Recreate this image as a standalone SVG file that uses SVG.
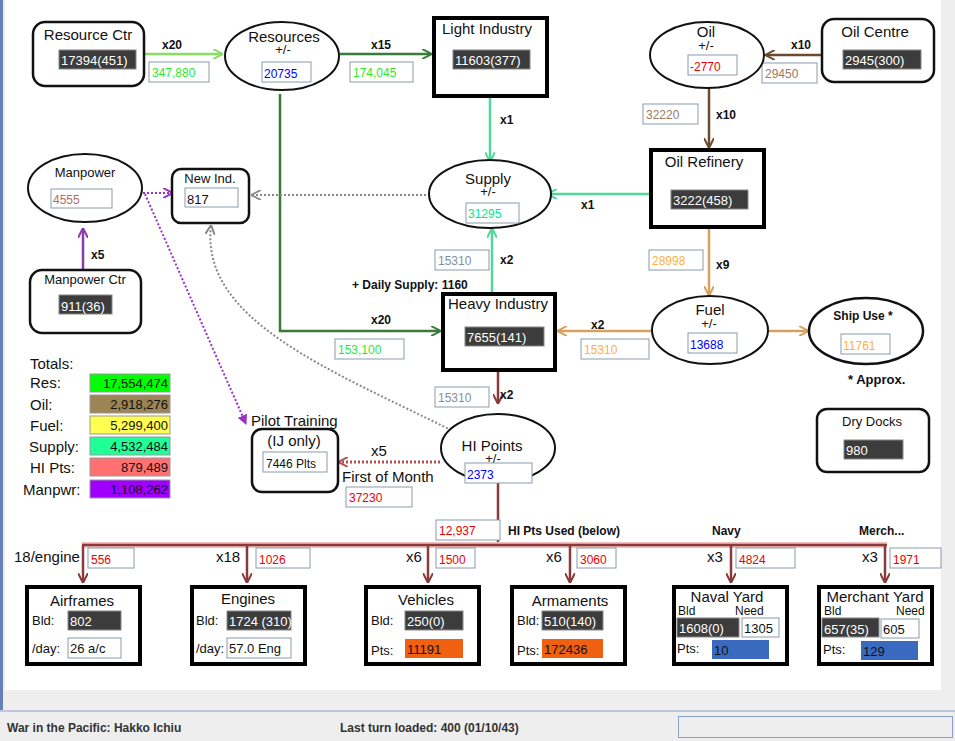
<svg xmlns="http://www.w3.org/2000/svg" width="955" height="741" viewBox="0 0 955 741">
<style>
text{font-family:"Liberation Sans",Arial,sans-serif;fill:#111}
.t{font-size:15px;text-anchor:middle}
.ts{font-size:13px;text-anchor:middle}
.b{font-size:12px;font-weight:bold}
.v{font-size:12px}
.dk{fill:#3c3c3c;stroke:#888;stroke-width:1}
.dt{fill:#fff;font-size:13px}
.ib{fill:#fff;stroke:#8a9aae;stroke-width:1}
.rb{fill:#fff;stroke:#111;stroke-width:2.5}
.tb{fill:#fff;stroke:#000;stroke-width:4}
.el{fill:#fff;stroke:#111;stroke-width:2}
</style>
<defs>
<marker id="ag" viewBox="0 0 10 10" refX="9" refY="5" markerWidth="10" markerHeight="10" orient="auto" markerUnits="userSpaceOnUse"><path d="M0,0L10,5L0,10" fill="none" stroke="context-stroke" stroke-width="2"/></marker>
<marker id="af" viewBox="0 0 10 10" refX="9" refY="5" markerWidth="10" markerHeight="10" orient="auto" markerUnits="userSpaceOnUse"><path d="M0,0L10,5L0,10z" fill="#9b30c8"/></marker>
</defs>
<rect width="955" height="741" fill="#eeeeee"/>
<rect x="5" y="0" width="936" height="690" fill="#fff"/>
<rect x="0" y="0" width="3" height="710" fill="#6680b8"/>
<line x1="0" y1="711" x2="955" y2="711" stroke="#8aa0c8"/>

<g id="connectors" fill="none">
<line x1="145" y1="54" x2="222" y2="54" stroke="#86e060" stroke-width="2.5" marker-end="url(#ag)"/>
<line x1="340" y1="54" x2="431" y2="54" stroke="#3a7a3a" stroke-width="2.5" marker-end="url(#ag)"/>
<polyline points="280,94 280,331 440,331" stroke="#3a7a3a" stroke-width="2.5" marker-end="url(#ag)"/>
<line x1="490" y1="98" x2="490" y2="161" stroke="#4fd89a" stroke-width="2.5" marker-end="url(#ag)"/>
<line x1="650" y1="194" x2="548" y2="194" stroke="#4fd89a" stroke-width="2.5" marker-end="url(#ag)"/>
<line x1="492" y1="292" x2="492" y2="229" stroke="#4fd89a" stroke-width="2.5" marker-end="url(#ag)"/>
<line x1="821" y1="55" x2="766" y2="55" stroke="#6b4a2e" stroke-width="2.5" marker-end="url(#ag)"/>
<line x1="709" y1="88" x2="709" y2="147" stroke="#6b4a2e" stroke-width="2.5" marker-end="url(#ag)"/>
<line x1="709" y1="229" x2="709" y2="295" stroke="#d8a060" stroke-width="2.5" marker-end="url(#ag)"/>
<line x1="651" y1="331" x2="558" y2="331" stroke="#d8a060" stroke-width="2.5" marker-end="url(#ag)"/>
<line x1="768" y1="331" x2="808" y2="331" stroke="#d8a060" stroke-width="2.5" marker-end="url(#ag)"/>
<line x1="498" y1="372" x2="498" y2="403" stroke="#8b3a3a" stroke-width="2.5" marker-end="url(#ag)"/>
<line x1="440" y1="462" x2="339" y2="462" stroke="#b05050" stroke-width="3" stroke-dasharray="2,2" marker-end="url(#ag)"/>
<line x1="83" y1="270" x2="83" y2="229" stroke="#8b3aa8" stroke-width="2.5" marker-end="url(#ag)"/>
<line x1="143" y1="193" x2="172" y2="193" stroke="#9b30c8" stroke-width="2" stroke-dasharray="2,2" marker-end="url(#ag)"/>
<line x1="145" y1="194" x2="246" y2="424" stroke="#9b30c8" stroke-width="2" stroke-dasharray="2,2" marker-end="url(#af)"/>
<line x1="430" y1="195" x2="252" y2="195" stroke="#888" stroke-width="2" stroke-dasharray="2,2" marker-end="url(#ag)"/>
<path d="M455,432 C330,370 200,320 211,226" stroke="#888" stroke-width="2" stroke-dasharray="2,2" marker-end="url(#ag)"/>
<line x1="498" y1="483" x2="498" y2="545" stroke="#8b3a3a" stroke-width="2.5"/>
<line x1="82" y1="545" x2="887" y2="545" stroke="#f2c0c0" stroke-width="6"/>
<line x1="82" y1="545" x2="887" y2="545" stroke="#8b3a3a" stroke-width="2.5"/>
<g stroke="#8b3a3a" stroke-width="2.5" marker-end="url(#ag)">
<line x1="83" y1="545" x2="83" y2="582"/>
<line x1="247" y1="545" x2="247" y2="582"/>
<line x1="428" y1="545" x2="428" y2="582"/>
<line x1="570" y1="545" x2="570" y2="582"/>
<line x1="731" y1="545" x2="731" y2="582"/>
<line x1="885" y1="545" x2="885" y2="582"/>
</g>
</g>

<g id="connector-labels">
<text x="162" y="49" class="b">x20</text>
<rect x="149" y="62" width="60" height="20" class="ib"/><text x="152" y="77" class="v" style="fill:#2ee82e">347,880</text>
<text x="371" y="49" class="b">x15</text>
<rect x="350" y="62" width="63" height="20" class="ib"/><text x="353" y="77" class="v" style="fill:#2ee82e">174,045</text>
<text x="371" y="324" class="b">x20</text>
<rect x="335" y="339" width="69" height="20" class="ib"/><text x="338" y="354" class="v" style="fill:#2ee82e">153,100</text>
<text x="500" y="124" class="b">x1</text>
<text x="581" y="209" class="b">x1</text>
<text x="500" y="264" class="b">x2</text>
<rect x="435" y="250" width="54" height="20" class="ib"/><text x="438" y="265" class="v" style="fill:#8090a0">15310</text>
<text x="352" y="289" class="b">+ Daily Supply: 1160</text>
<text x="791" y="49" class="b">x10</text>
<rect x="762" y="63" width="55" height="20" class="ib"/><text x="765" y="78" class="v" style="fill:#9a7a60">29450</text>
<text x="716" y="119" class="b">x10</text>
<rect x="643" y="104" width="55" height="20" class="ib"/><text x="646" y="119" class="v" style="fill:#9a7a60">32220</text>
<text x="716" y="269" class="b">x9</text>
<rect x="649" y="250" width="54" height="20" class="ib"/><text x="652" y="265" class="v" style="fill:#ffb040">28998</text>
<text x="591" y="329" class="b">x2</text>
<rect x="581" y="339" width="68" height="20" class="ib"/><text x="584" y="354" class="v" style="fill:#ffb040">15310</text>
<text x="500" y="399" class="b">x2</text>
<rect x="435" y="387" width="54" height="20" class="ib"/><text x="438" y="402" class="v" style="fill:#8090a0">15310</text>
<text x="91" y="259" class="b">x5</text>
<text x="371" y="456" style="font-size:15px">x5</text>
<text x="342" y="482" style="font-size:15px">First of Month</text>
<rect x="346" y="487" width="66" height="20" class="ib"/><text x="349" y="502" class="v" style="fill:#e00">37230</text>
<rect x="436" y="520" width="64" height="20" class="ib"/><text x="439" y="535" class="v" style="fill:#e00">12,937</text>
<text x="508" y="535" class="b">HI Pts Used (below)</text>
<text x="712" y="535" class="b">Navy</text>
<text x="859" y="535" class="b">Merch...</text>
<text x="14" y="562" style="font-size:15px">18/engine</text>
<rect x="88" y="548" width="46" height="20" class="ib"/><text x="91" y="564" class="v" style="fill:#e00">556</text>
<text x="216" y="562" style="font-size:15px">x18</text>
<rect x="256" y="548" width="54" height="20" class="ib"/><text x="259" y="564" class="v" style="fill:#e00">1026</text>
<text x="406" y="562" style="font-size:15px">x6</text>
<rect x="436" y="548" width="39" height="20" class="ib"/><text x="439" y="564" class="v" style="fill:#e00">1500</text>
<text x="546" y="562" style="font-size:15px">x6</text>
<rect x="577" y="548" width="39" height="20" class="ib"/><text x="580" y="564" class="v" style="fill:#e00">3060</text>
<text x="707" y="562" style="font-size:15px">x3</text>
<rect x="736" y="548" width="59" height="20" class="ib"/><text x="739" y="564" class="v" style="fill:#e00">4824</text>
<text x="862" y="562" style="font-size:15px">x3</text>
<rect x="890" y="548" width="51" height="20" class="ib"/><text x="893" y="564" class="v" style="fill:#e00">1971</text>
</g>

<g id="resource-ctr"><rect x="33" y="22" width="111" height="64" rx="12" class="rb"/><text x="88" y="40" class="t">Resource Ctr</text><rect x="59" y="50" width="77" height="19" class="dk"/><text x="61" y="65" class="dt">17394(451)</text></g>
<g id="resources"><ellipse cx="282" cy="56" rx="57" ry="34" class="el"/><text x="284" y="42" class="t">Resources</text><text x="283" y="54" class="ts">+/-</text><rect x="262" y="62" width="49" height="20" class="ib"/><text x="264" y="78" class="v" style="fill:#00f">20735</text></g>
<g id="light-industry"><rect x="434" y="18" width="113" height="78" class="tb"/><text x="487" y="34" class="t">Light Industry</text><rect x="453" y="50" width="77" height="19" class="dk"/><text x="455" y="65" class="dt">11603(377)</text></g>
<g id="supply"><ellipse cx="490" cy="194" rx="61" ry="34" class="el"/><text x="488" y="184" class="t">Supply</text><text x="488" y="196" class="ts">+/-</text><rect x="466" y="203" width="53" height="20" class="ib"/><text x="468" y="218" class="v" style="fill:#00e890">31295</text></g>
<g id="oil"><ellipse cx="707" cy="55" rx="57" ry="33" class="el"/><text x="706" y="37" class="t">Oil</text><text x="706" y="50" class="ts">+/-</text><rect x="688" y="55" width="49" height="20" class="ib"/><text x="690" y="71" class="v" style="fill:#e00">-2770</text></g>
<g id="oil-centre"><rect x="822" y="19" width="112" height="63" rx="12" class="rb"/><text x="875" y="37" class="t">Oil Centre</text><rect x="843" y="50" width="78" height="19" class="dk"/><text x="845" y="65" class="dt">2945(300)</text></g>
<g id="oil-refinery"><rect x="651" y="150" width="113" height="77" class="tb"/><text x="704" y="167" class="t">Oil Refinery</text><rect x="671" y="190" width="77" height="19" class="dk"/><text x="673" y="205" class="dt">3222(458)</text></g>
<g id="fuel"><ellipse cx="710" cy="330" rx="58" ry="34" class="el"/><text x="710" y="315" class="t">Fuel</text><text x="709" y="328" class="ts">+/-</text><rect x="688" y="333" width="49" height="20" class="ib"/><text x="690" y="349" class="v" style="fill:#00f">13688</text></g>
<g id="ship-use"><ellipse cx="866" cy="331" rx="57" ry="33" class="el" style="stroke-width:2.5"/><text x="863" y="320" class="ts" style="font-weight:bold;font-size:12px">Ship Use *</text><rect x="841" y="334" width="49" height="20" class="ib"/><text x="843" y="350" class="v" style="fill:#ffb040">11761</text><text x="848" y="384" class="b" style="font-size:13px">* Approx.</text></g>
<g id="dry-docks"><rect x="817" y="409" width="112" height="63" rx="10" class="rb"/><text x="872" y="426" class="ts">Dry Docks</text><rect x="844" y="440" width="59" height="19" class="dk"/><text x="846" y="455" class="dt">980</text></g>
<g id="heavy-industry"><rect x="443" y="294" width="112" height="76" class="tb"/><text x="498" y="309" class="t">Heavy Industry</text><rect x="465" y="327" width="79" height="19" class="dk"/><text x="467" y="342" class="dt">7655(141)</text></g>
<g id="hi-points"><ellipse cx="498" cy="448" rx="57" ry="34" class="el"/><text x="492" y="451" class="t">HI Points</text><text x="493" y="463" class="ts">+/-</text><rect x="465" y="463" width="67" height="20" class="ib"/><text x="467" y="479" class="v" style="fill:#00f">2373</text></g>
<g id="pilot-training"><text x="251" y="426" style="font-size:15px">Pilot Training</text><rect x="252" y="429" width="86" height="63" rx="10" class="rb"/><text x="294" y="446" class="t">(IJ only)</text><rect x="263" y="452" width="64" height="20" class="ib"/><text x="266" y="468" class="v">7446 Plts</text></g>
<g id="manpower"><ellipse cx="85" cy="188" rx="57" ry="34" class="el"/><text x="85" y="177" class="ts">Manpower</text><rect x="51" y="189" width="61" height="19" class="ib"/><text x="53" y="204" class="v" style="fill:#b07060">4555</text></g>
<g id="manpower-ctr"><rect x="30" y="270" width="111" height="63" rx="12" class="rb"/><text x="85" y="284" class="ts">Manpower Ctr</text><rect x="59" y="295" width="53" height="19" class="dk"/><text x="61" y="311" class="dt">911(36)</text></g>
<g id="new-ind"><rect x="172" y="169" width="77" height="54" rx="9" class="rb"/><text x="210" y="183" class="ts">New Ind.</text><rect x="185" y="188" width="53" height="19" class="ib"/><text x="187" y="204" class="v" style="font-size:13px">817</text></g>

<g id="totals" style="font-size:15px">
<text x="30" y="369">Totals:</text>
<text x="30" y="388">Res:</text><rect x="90" y="374" width="80" height="18" fill="#00ff00" stroke="#999"/><text x="168" y="388" text-anchor="end" style="font-size:13px">17,554,474</text>
<text x="30" y="410">Oil:</text><rect x="90" y="395" width="80" height="18" fill="#9c8454" stroke="#999"/><text x="168" y="409" text-anchor="end" style="font-size:13px">2,918,276</text>
<text x="30" y="431">Fuel:</text><rect x="90" y="416" width="80" height="18" fill="#ffff50" stroke="#999"/><text x="168" y="430" text-anchor="end" style="font-size:13px">5,299,400</text>
<text x="29" y="452">Supply:</text><rect x="90" y="437" width="80" height="18" fill="#20ff98" stroke="#999"/><text x="168" y="451" text-anchor="end" style="font-size:13px">4,532,484</text>
<text x="30" y="473">HI Pts:</text><rect x="90" y="458" width="80" height="18" fill="#ff7070" stroke="#999"/><text x="168" y="472" text-anchor="end" style="font-size:13px">879,489</text>
<text x="23" y="495">Manpwr:</text><rect x="90" y="480" width="80" height="18" fill="#a000ff" stroke="#999"/><text x="168" y="494" text-anchor="end" style="font-size:13px">1,108,262</text>
</g>

<g id="airframes"><rect x="27" y="587" width="113" height="77" class="tb"/><text x="82" y="606" class="t">Airframes</text><text x="32" y="625" style="font-size:13px">Bld:</text><rect x="68" y="611" width="53" height="19" class="dk"/><text x="70" y="626" class="dt">802</text><text x="32" y="653" style="font-size:13px">/day:</text><rect x="68" y="638" width="53" height="20" class="ib"/><text x="70" y="653" style="font-size:13px">26 a/c</text></g>
<g id="engines"><rect x="192" y="587" width="113" height="77" class="tb"/><text x="248" y="604" class="t">Engines</text><text x="196" y="625" style="font-size:13px">Bld:</text><rect x="227" y="611" width="64" height="19" class="dk"/><text x="229" y="626" class="dt">1724 (310)</text><text x="196" y="653" style="font-size:13px">/day:</text><rect x="227" y="638" width="64" height="20" class="ib"/><text x="229" y="653" style="font-size:13px">57.0 Eng</text></g>
<g id="vehicles"><rect x="366" y="587" width="113" height="77" class="tb"/><text x="426" y="605" class="t">Vehicles</text><text x="371" y="625" style="font-size:13px">Bld:</text><rect x="405" y="611" width="58" height="19" class="dk"/><text x="407" y="626" class="dt">250(0)</text><text x="371" y="655" style="font-size:13px">Pts:</text><rect x="405" y="639" width="58" height="19" fill="#f06010"/><text x="407" y="654" style="font-size:13px">11191</text></g>
<g id="armaments"><rect x="512" y="587" width="113" height="77" class="tb"/><text x="570" y="606" class="t">Armaments</text><text x="517" y="625" style="font-size:13px">Bld:</text><rect x="542" y="611" width="61" height="19" class="dk"/><text x="544" y="626" class="dt">510(140)</text><text x="517" y="655" style="font-size:13px">Pts:</text><rect x="542" y="639" width="61" height="19" fill="#f06010"/><text x="544" y="654" style="font-size:13px">172436</text></g>
<g id="naval-yard"><rect x="674" y="587" width="113" height="77" class="tb"/><text x="727" y="602" class="t">Naval Yard</text><text x="678" y="615" style="font-size:12px">Bld</text><text x="735" y="615" style="font-size:12px">Need</text><rect x="677" y="618" width="62" height="19" class="dk"/><text x="679" y="633" class="dt">1608(0)</text><rect x="742" y="618" width="37" height="19" class="ib"/><text x="744" y="633" style="font-size:13px">1305</text><text x="677" y="653" style="font-size:13px">Pts:</text><rect x="712" y="640" width="57" height="19" fill="#3a6ac0"/><text x="714" y="655" style="font-size:13px">10</text></g>
<g id="merchant-yard"><rect x="819" y="587" width="113" height="77" class="tb"/><text x="875" y="602" class="t">Merchant Yard</text><text x="824" y="615" style="font-size:12px">Bld</text><text x="896" y="615" style="font-size:12px">Need</text><rect x="822" y="618" width="57" height="19" class="dk"/><text x="824" y="634" class="dt">657(35)</text><rect x="881" y="619" width="38" height="19" class="ib"/><text x="883" y="634" style="font-size:13px">605</text><text x="823" y="654" style="font-size:13px">Pts:</text><rect x="861" y="641" width="57" height="19" fill="#3a6ac0"/><text x="863" y="656" style="font-size:13px">129</text></g>

<g id="status-bar">
<text x="7" y="732" class="b" style="fill:#333">War in the Pacific: Hakko Ichiu</text>
<text x="340" y="732" class="b" style="fill:#333">Last turn loaded: 400 (01/10/43)</text>
<rect x="678.5" y="716.5" width="274" height="21" fill="#eeeeee" stroke="#8aa0c8"/>
</g>
</svg>
